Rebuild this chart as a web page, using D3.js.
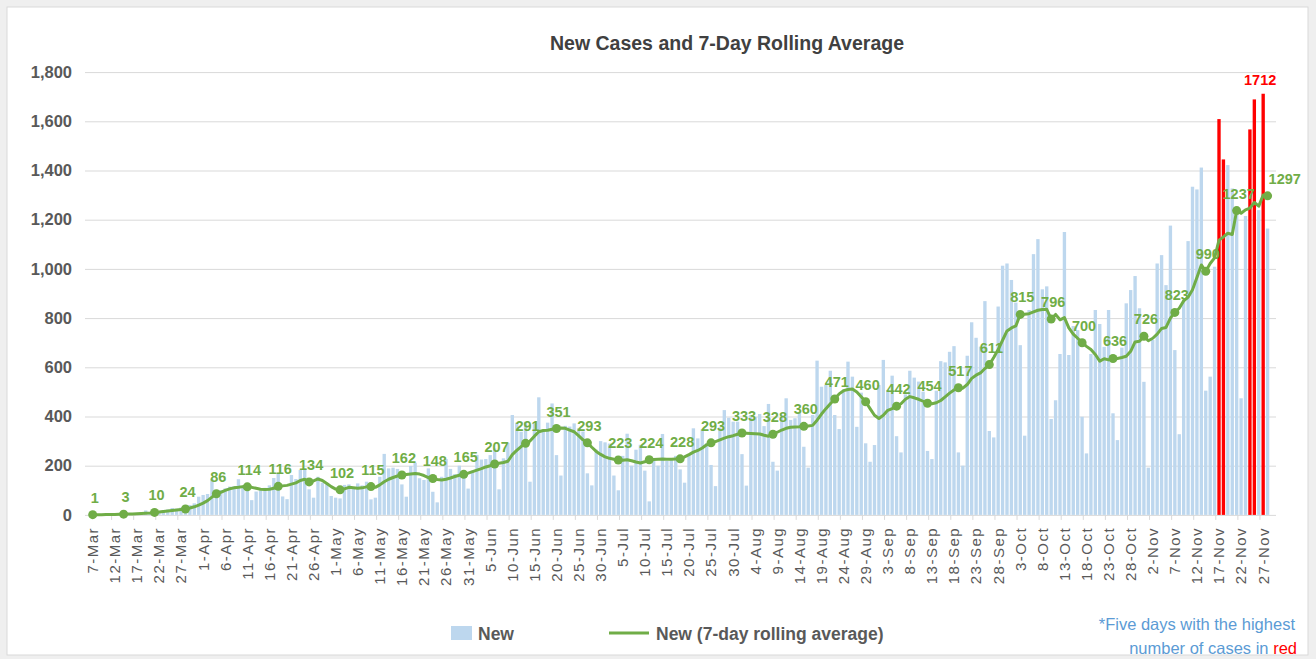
<!DOCTYPE html>
<html>
<head>
<meta charset="utf-8">
<script src="https://cdn.jsdelivr.net/npm/d3@7"></script>
<style>
    body { margin: 0; background: #efefef; }
    svg { display: block; font-family: "Liberation Sans", Arial, sans-serif; }
</style>
</head>
<body>
<svg id="chart" width="1316" height="659"></svg>
<script>
// daily data, first bar is 7-Mar
const firstDay = new Date(2020, 2, 7);

const newCases = [
    1, 1, 2, 3, 4, 5, 3, 3, 5, 6, 8, 10, 18, 12, 11, 16, 20, 22, 28, 25, 30, 27,
    40, 47, 74, 81, 85, 145, 94, 101, 108, 115, 117,
    145, 112, 108, 60, 95, 100, 110, 120, 150, 169, 75, 64, 162, 146, 183, 190, 104, 70, 155, 131, 125, 77, 70, 67, 122, 124, 108, 128, 120, 135, 63, 70, 155, 248, 189,
    192, 187, 124, 74, 199, 212, 149, 142, 189, 94, 51, 155, 227, 187, 166, 200, 169, 107, 180, 244,
    225, 227, 243, 270, 104, 230, 293, 406, 375, 338, 379, 135, 372, 478, 345, 375, 453, 243, 160,
    362, 359, 372, 352, 339, 169, 120, 265, 300, 295, 290, 160, 100, 240, 330, 200, 265, 285, 180,
    55, 230, 200, 329, 219, 223, 240, 185,
    131, 247, 352, 311, 348, 291, 203, 117, 356,
    426, 395, 379, 379, 247, 119, 406, 398, 410, 361, 451, 216, 180, 406, 474, 386, 393, 415, 277, 192, 406, 627, 521, 528, 586, 406, 349, 510, 623, 562, 358,
    497, 291, 216, 284, 528, 630, 508, 566, 320, 254, 490, 586, 558, 542, 501, 260, 227, 505, 625, 620, 663, 686, 254, 200, 647, 783, 720, 684, 869, 341, 315, 847, 1013, 1022, 955,
    863, 690, 322, 833, 1060, 1121, 917, 929, 390, 466, 654, 1150, 650, 768, 751, 399, 250, 654, 833, 776, 683, 833, 413, 304, 680, 860, 914, 971, 840, 541, 192, 711, 1022, 1056, 934,
    1176, 670, 328, 873, 1113, 1334, 1323, 1412, 505, 562, 1009, 1609, 1445, 1422, 1327, 1242, 474, 1215, 1567, 1689, 1239, 1712, 1164
];

const rollingAvg = [
    1, 1, 1, 2, 2, 2, 3, 3,
    4, 4, 5, 6, 7, 8, 10,
    12, 14, 16, 18, 20, 22, 24,
    28, 33, 40, 48, 58, 72, 86,
    92, 100, 106, 110, 112, 115, 114,
    112, 108, 104, 103, 104, 108, 116,
    118, 120, 125, 130, 140, 145, 134,
    138, 146, 140, 128, 115, 105, 102,
    106, 112, 110, 108, 110, 114, 115,
    112, 122, 135, 145, 152, 158, 162,
    164, 166, 168, 166, 160, 152, 148,
    144, 142, 145, 150, 156, 161, 165,
    170, 176, 182, 188, 195, 200, 207,
    210, 213, 218, 245, 262, 278, 291,
    300, 320, 338, 343, 344, 348, 351,
    353, 352, 345, 338, 322, 305, 293,
    275, 258, 246, 236, 230, 226, 223,
    222, 224, 220, 215, 211, 216, 224,
    225, 226, 227, 226, 226, 227, 228,
    236, 245, 255, 262, 272, 285, 293,
    298, 305, 312, 318, 322, 328, 333,
    332, 331, 330, 329, 324, 320, 328,
    336, 345, 352, 356, 357, 358, 360,
    361, 364, 385, 410, 432, 452, 471,
    492, 505, 510, 512, 500, 480, 460,
    432, 405, 392, 405, 425, 432, 442,
    452, 470, 481, 476, 470, 462, 454,
    452, 456, 465, 480, 495, 508, 517,
    515, 530, 555, 568, 577, 595, 611,
    640, 672, 710, 748, 760, 768, 815,
    816, 818, 825, 832, 835, 836, 796,
    815, 793, 802, 760, 735, 718, 700,
    685, 672, 652, 625, 635, 630, 636,
    636, 640, 645, 665, 703, 706, 726,
    708, 718, 735, 758, 762, 800, 823,
    840, 870, 885, 915, 965, 1016, 990,
    1022, 1045, 1117, 1130, 1145, 1140, 1237,
    1226, 1240, 1247, 1270, 1255, 1300, 1297
];

const yTicks = [0, 200, 400, 600, 800, 1000, 1200, 1400, 1600, 1800];
const labelStep = 5;   // x tick label every 5 days
const markerStep = 7;  // labelled average point every week
const highlightCount = 5;

const chartTitle = "New Cases and 7-Day Rolling Average";
const legendNames = ["New", "New (7-day rolling average)"];
const noteLines = ["*Five days with the highest", "number of cases in "];

class RollingChart {
    margin = { top: 72.1, left: 90.5 }

    constructor(svg, width = 1179.3, height = 442.8) {
        this.svg = d3.select(svg);
        this.width = width;
        this.height = height;
    }

    initialize() {
        this.svg.append("rect")
            .attr("x", 7).attr("y", 7)
            .attr("width", 1301).attr("height", 648)
            .attr("fill", "#fff")
            .attr("stroke", "#d9d9d9");

        this.svg.append("text")
            .attr("x", 727).attr("y", 50)
            .attr("text-anchor", "middle")
            .attr("font-size", 19.5).attr("font-weight", "bold")
            .attr("fill", "#404040")
            .text(chartTitle);

        this.container = this.svg.append("g")
            .attr("transform", `translate(${this.margin.left}, ${this.margin.top})`);
        this.grid = this.container.append("g");
        this.xAxis = this.container.append("g");
        this.bars = this.container.append("g");
        this.lineLayer = this.container.append("g");

        this.xScale = d3.scaleBand().range([0, this.width]).paddingInner(0.24).paddingOuter(0.12);
        this.yScale = d3.scaleLinear().domain([0, 1800]).range([this.height, 0]);
    }

    update(days, cases, avg) {
        const x = this.xScale.domain(days.map((d, i) => i));
        const y = this.yScale;
        const cx = i => x(i) + x.bandwidth() / 2;
        const fmtDay = d3.timeFormat("%-d-%b");

        // gridlines + y labels
        this.grid.call(d3.axisLeft(y).tickValues(yTicks).tickFormat(d3.format(","))
                .tickSize(-1191).tickPadding(13))
            .attr("transform", "translate(-5.5, 0)")
            .call(g => g.select(".domain").remove())
            .call(g => g.selectAll("line").attr("stroke", "#d9d9d9"))
            .call(g => g.selectAll("text")
                .attr("font-size", 16.5).attr("font-weight", "bold")
                .attr("fill", "#595959").attr("font-family", "Liberation Sans, Arial, sans-serif"));

        // x axis: labels every 5 days, ticks on the category boundary
        const labelIdx = days.map((d, i) => i).filter(i => i % labelStep === 0);
        this.xAxis.attr("transform", `translate(0, ${this.height})`)
            .call(d3.axisBottom(x).tickValues(labelIdx).tickFormat(i => fmtDay(days[i])).tickSize(0))
            .call(g => g.select(".domain").remove())
            .call(g => g.selectAll("text")
                .attr("transform", "rotate(-90)")
                .attr("x", -12).attr("y", 0).attr("dy", "0.36em")
                .attr("text-anchor", "end")
                .attr("font-size", 15).attr("letter-spacing", 1.5)
                .attr("fill", "#595959").attr("font-family", "Liberation Sans, Arial, sans-serif"));
        this.xAxis.selectAll(".boundary")
            .data(labelIdx.slice(1))
            .join("line")
            .attr("class", "boundary")
            .attr("x1", i => x(i) - x.step() * x.paddingInner() / 2 - 1)
            .attr("x2", i => x(i) - x.step() * x.paddingInner() / 2 - 1)
            .attr("y1", 0).attr("y2", 5)
            .attr("stroke", "#d9d9d9");

        // five highest days in red
        const topVals = cases.slice().sort((a, b) => b - a).slice(0, highlightCount);
        const cutoff = topVals[topVals.length - 1];

        this.bars.selectAll("rect")
            .data(cases)
            .join("rect")
            .attr("x", (d, i) => x(i))
            .attr("width", x.bandwidth())
            .attr("y", d => y(d))
            .attr("height", d => y(0) - y(d))
            .attr("fill", d => d >= cutoff ? "#ff0000" : "#bdd7ee");

        const maxIdx = d3.maxIndex(cases);
        this.bars.append("text")
            .attr("x", cx(maxIdx) - 3).attr("y", y(cases[maxIdx]) - 9)
            .attr("text-anchor", "middle")
            .attr("font-size", 14.5).attr("font-weight", "bold")
            .attr("fill", "#ff0000")
            .text(cases[maxIdx]);

        // rolling average
        const line = d3.line().x((d, i) => cx(i)).y(d => y(d));
        this.lineLayer.append("path")
            .datum(avg)
            .attr("d", line)
            .attr("fill", "none")
            .attr("stroke", "#70ad47")
            .attr("stroke-width", 3)
            .attr("stroke-linejoin", "round");

        const weekly = avg.map((v, i) => ({ v, i })).filter(d => d.i % markerStep === 0);
        const last = weekly[weekly.length - 1].i;

        this.lineLayer.selectAll("circle")
            .data(weekly)
            .join("circle")
            .attr("cx", d => cx(d.i))
            .attr("cy", d => y(d.v))
            .attr("r", 4.5)
            .attr("fill", "#70ad47");

        this.lineLayer.selectAll(".avg-label")
            .data(weekly)
            .join("text")
            .attr("class", "avg-label")
            .attr("x", d => d.i === last ? cx(d.i) + 1 : cx(d.i) + 2)
            .attr("y", d => y(d.v) - 12)
            .attr("text-anchor", d => d.i === last ? "start" : "middle")
            .attr("font-size", 14.5).attr("font-weight", "bold")
            .attr("fill", "#70ad47")
            .text(d => d.v);
    }

    legend() {
        const lg = this.svg.append("g");
        lg.append("rect")
            .attr("x", 451).attr("y", 626).attr("width", 21).attr("height", 14)
            .attr("fill", "#bdd7ee");
        lg.append("text")
            .attr("x", 478).attr("y", 639.5)
            .attr("font-size", 17.5).attr("font-weight", "bold").attr("fill", "#595959")
            .text(legendNames[0]);
        lg.append("line")
            .attr("x1", 609).attr("x2", 649).attr("y1", 633).attr("y2", 633)
            .attr("stroke", "#70ad47").attr("stroke-width", 3);
        lg.append("text")
            .attr("x", 656).attr("y", 639.5)
            .attr("font-size", 17.5).attr("font-weight", "bold").attr("fill", "#595959")
            .text(legendNames[1]);

        const note = this.svg.append("g")
            .attr("font-family", "'Liberation Sans Narrow', 'Liberation Sans', Arial, sans-serif")
            .attr("font-size", 16.5).attr("text-anchor", "end");
        note.append("text")
            .attr("x", 1295).attr("y", 630)
            .attr("fill", "#5b9bd5")
            .text(noteLines[0]);
        const t2 = note.append("text")
            .attr("x", 1297).attr("y", 654)
            .attr("fill", "#5b9bd5");
        t2.append("tspan").text(noteLines[1]);
        t2.append("tspan").attr("fill", "#ff0000").text("red");
    }
}

const days = d3.timeDay.range(firstDay, d3.timeDay.offset(firstDay, newCases.length));
const chart = new RollingChart("#chart");
chart.initialize();
chart.update(days, newCases, rollingAvg);
chart.legend();
</script>
</body>
</html>
